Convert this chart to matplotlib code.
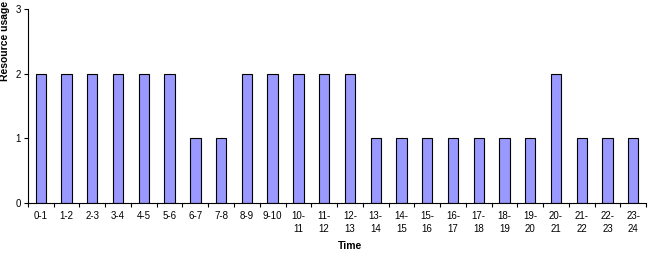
import numpy as np
import matplotlib.pyplot as plt

labels = ["0-1", "1-2", "2-3", "3-4", "4-5", "5-6", "6-7", "7-8", "8-9", "9-10",
          "10-\n11", "11-\n12", "12-\n13", "13-\n14", "14-\n15", "15-\n16", "16-\n17",
          "17-\n18", "18-\n19", "19-\n20", "20-\n21", "21-\n22", "22-\n23", "23-\n24"]
usage = [2, 2, 2, 2, 2, 2, 1, 1, 2, 2, 2, 2, 2, 1, 1, 1, 1, 1, 1, 1, 2, 1, 1, 1]

plt.rcParams['font.family'] = ['Liberation Sans', 'DejaVu Sans']

fig = plt.figure(figsize=(6.5, 2.57), dpi=100)
ax = fig.add_axes([0.043, 0.21, 0.951, 0.755])

x = np.arange(len(usage))
ax.bar(x, usage, width=0.4, color='#9999ff', edgecolor='black', linewidth=0.8)

ax.set_xlim(-0.5, len(usage) - 0.5)
ax.set_ylim(0, 3)
ax.set_yticks([0, 1, 2, 3])
ax.tick_params(axis='y', labelsize=7, length=3, width=0.8, pad=2)

# ticks sit between the categories, labels in the middle
ax.set_xticks(np.arange(len(usage) + 1) - 0.5)
ax.set_xticklabels([])
ax.set_xticks(x, minor=True)
ax.set_xticklabels(labels, minor=True, fontsize=7, linespacing=1.3, va='top')
ax.tick_params(axis='x', which='major', length=3, width=0.8)
ax.tick_params(axis='x', which='minor', length=0, pad=6)

for s in ['top', 'right']:
    ax.spines[s].set_visible(False)
ax.spines['left'].set_linewidth(0.8)
ax.spines['bottom'].set_linewidth(0.8)

fig.text(5 / 650, 1 - 1 / 257, 'Resource usage', rotation=90, ha='center', va='top',
         fontsize=7.5, fontweight='bold')
ax.set_xlabel('Time', fontsize=7.5, fontweight='bold')
ax.xaxis.set_label_coords(0.521, -0.195)

fig.savefig('out.png', dpi=100)
